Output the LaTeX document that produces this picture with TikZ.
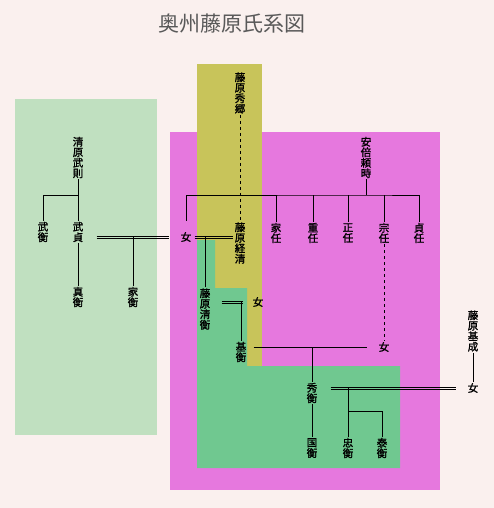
\documentclass[tikz,border=0pt]{standalone}
\usepackage{fontspec}
\newfontfamily\cjk{Noto Sans CJK JP}
\newfontfamily\cjkb{Noto Sans CJK JP}[FakeBold=1.5]
\usetikzlibrary{calc}
\definecolor{paper}{RGB}{250,240,238}
\definecolor{seigreen}{RGB}{192,224,192}
\definecolor{abepink}{RGB}{230,120,222}
\definecolor{fujiolive}{RGB}{200,196,90}
\definecolor{oshugreen}{RGB}{112,200,144}
\tikzset{
  mei/.style={font=\cjkb\fontsize{10.5}{10.5}\selectfont, align=center, inner sep=1pt},
  kon/.style={draw=none, line width=0.6pt,
    postaction={draw, transform canvas={yshift=1.1pt}},
    postaction={draw, transform canvas={yshift=-1.1pt}}},
}

\begin{document}
\begin{tikzpicture}[x=1pt,y=-1pt,line width=0.6pt]
    \useasboundingbox (0,0) rectangle (494,508);
    \fill[paper] (0,0) rectangle (494,508);
    \node[font=\cjk\fontsize{21}{21}\selectfont, text=black!65] (title) at (232,24) {奥州藤原氏系図};
    % areas
    \fill[seigreen] (15,99) rectangle (157,435);
    \fill[abepink] (170,132) rectangle (440,490);
    \fill[fujiolive] (197,64) rectangle (262,366);
    \fill[oshugreen] (197,240) -- (215,240) -- (215,288) -- (247,288) -- (247,366)
        -- (400,366) -- (400,468) -- (197,468) -- cycle;
    % Kiyohara
    \node[mei] (takenori) at (78,157.5) {清\\原\\武\\則};
    \node[mei] (takehira) at (43,232) {武\\衡};
    \node[mei] (takesada) at (78,232) {武\\貞};
    \node[mei] (sanehira) at (78,297) {真\\衡};
    \node[mei] (iehira) at (133,297) {家\\衡};
    % Abe
    \node[mei] (yoritoki) at (366,157.5) {安\\倍\\頼\\時};
    \node[mei] (onnaA) at (186,237) {女};
    \node[mei] (ieto) at (276,233) {家\\任};
    \node[mei] (shigeto) at (313,233) {重\\任};
    \node[mei] (masato) at (348,233) {正\\任};
    \node[mei] (muneto) at (384,233) {宗\\任};
    \node[mei] (sadato) at (419,233) {貞\\任};
    % Fujiwara
    \node[mei] (hidesato) at (240,93) {藤\\原\\秀\\郷};
    \node[mei] (tsunekiyo) at (240,243) {藤\\原\\経\\清};
    \node[mei] (kiyohira) at (205,309) {藤\\原\\清\\衡};
    \node[mei] (onnaB) at (258,302) {女};
    \node[mei] (motohira) at (241,352) {基\\衡};
    \node[mei] (onnaC) at (384,347) {女};
    \node[mei] (hidehira) at (312,393) {秀\\衡};
    \node[mei] (motonari) at (473,331) {藤\\原\\基\\成};
    \node[mei] (onnaD) at (473,388) {女};
    \node[mei] (kunihira) at (312,448) {国\\衡};
    \node[mei] (tadahira) at (348,448) {忠\\衡};
    \node[mei] (yasuhira) at (382,448) {泰\\衡};
    \coordinate (jK) at (78,195);
    \coordinate (jA) at (366,195);
    \coordinate (jT) at (348,411);
    % lines
    \draw (takenori) -- (takesada);
    \draw (jK) -| (takehira);
    \draw (takesada) -- (sanehira);
    \draw[kon, shorten <=12pt, shorten >=10pt] (takesada.east |- onnaA) -- (onnaA.west);
    \draw (iehira) -- (iehira |- onnaA);
    \draw (yoritoki) -- (jA);
    \draw[shorten <=10pt] (onnaA) |- (jA) -| (sadato);
    \foreach \ko in {ieto,shigeto,masato,muneto}
      \draw (\ko) -- (\ko |- jA);
    \draw[dashed] (hidesato) -- (tsunekiyo);
    \draw[kon, shorten <=2pt] (onnaA.east) -- (tsunekiyo.west |- onnaA.east);
    \draw (kiyohira) -- (kiyohira |- onnaA);
    \draw[dashed] (muneto) -- (onnaC);
    \draw[kon, shorten <=10pt, shorten >=8pt] (kiyohira.east |- onnaB) -- (onnaB.west);
    \draw (motohira) -- (motohira |- onnaB);
    \draw[line width=0.9pt, shorten <=6pt, shorten >=10pt] (motohira.east |- onnaC) -- (onnaC.west);
    \draw (hidehira) -- (hidehira |- onnaC);
    \draw[kon, shorten <=12pt, shorten >=10pt] (hidehira.east |- onnaD) -- (onnaD.west);
    \draw (motonari) -- (onnaD);
    \draw (hidehira) -- (kunihira);
    \draw (tadahira) -- (tadahira |- onnaD);
    \draw (jT) -| (yasuhira);
\end{tikzpicture}
\end{document}
